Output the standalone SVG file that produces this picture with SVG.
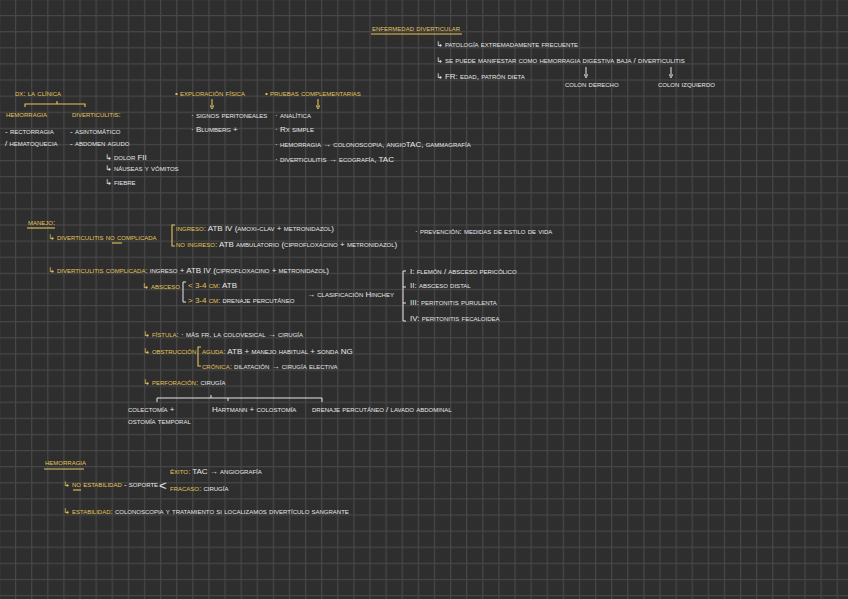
<svg xmlns="http://www.w3.org/2000/svg" width="848" height="599" viewBox="0 0 848 599">
<style>
text{font-family:"Liberation Sans","DejaVu Sans",sans-serif;font-size:8px;font-variant:small-caps;fill:#e8e8e8}
.y{fill:#e4c55c}
.w{fill:#e8e8e8}
.lw{stroke:#e8e8e8;stroke-width:1;fill:none}
.ly{stroke:#e4c55c;stroke-width:1.1;fill:none}
</style>
<defs>
<pattern id="grid" patternUnits="userSpaceOnUse" x="15" y="15" width="16.11" height="16.11">
<rect width="16.11" height="16.11" fill="#2e2e2e"/>
<rect width="1.2" height="16.11" fill="#474747"/>
<rect width="16.11" height="1.2" fill="#474747"/>
</pattern>
<marker id="aw" viewBox="0 0 6 6" refX="3" refY="3" markerWidth="4" markerHeight="4" orient="auto"><path d="M0,0 L6,3 L0,6" fill="none" stroke="#e8e8e8" stroke-width="1.2"/></marker>
<marker id="ay" viewBox="0 0 6 6" refX="3" refY="3" markerWidth="4" markerHeight="4" orient="auto"><path d="M0,0 L6,3 L0,6" fill="none" stroke="#e4c55c" stroke-width="1.2"/></marker>
</defs>
<rect width="848" height="599" fill="url(#grid)"/>

<g id="connectors">
<line class="ly" x1="371" y1="34" x2="462" y2="34"/>
<line class="lw" x1="586" y1="67" x2="586" y2="76" marker-end="url(#aw)"/>
<line class="lw" x1="671" y1="67" x2="671" y2="76" marker-end="url(#aw)"/>
<path class="ly" d="M25,107 L25,104 L85,104 L85,107 M57,104 L57,101"/>
<line class="ly" x1="212" y1="99" x2="212" y2="107" marker-end="url(#ay)"/>
<line class="ly" x1="318" y1="99" x2="318" y2="107" marker-end="url(#ay)"/>
<line class="ly" x1="27" y1="228" x2="55" y2="228"/>
<line class="ly" x1="112" y1="243" x2="122" y2="243"/>
<path class="ly" d="M175,225 L172,225 L172,246 L175,246"/>
<path class="lw" d="M186,282 L183,282 L183,302 L186,302"/>
<path class="lw" d="M406,271 L403,271 L403,321 L406,321 M403,287 L406,287 M403,303 L406,303"/>
<path class="ly" d="M201,347 L198,347 L198,366 L201,366"/>
<path class="lw" d="M157,402 L157,398 L322,398 L322,402 M211,398 L211,395 M228,398 L228,401"/>
<line class="ly" x1="44" y1="469" x2="84" y2="469"/>
<line class="ly" x1="73" y1="490" x2="81" y2="490"/>
</g>

<g id="enfermedad-diverticular">
<text class="y" x="372" y="31">enfermedad diverticular</text>
<text x="436" y="47">↳ patología extremadamente frecuente</text>
<text x="436" y="63">↳ se puede manifestar como hemorragia digestiva baja / diverticulitis</text>
<text x="436" y="79">↳ FR: edad, patrón dieta</text>
<text x="565" y="87">colon derecho</text>
<text x="658" y="87">colon izquierdo</text>
</g>

<g id="dx-clinica">
<text class="y" x="15" y="96">dx: la clínica</text>
<text class="y" x="6" y="117">hemorragia</text>
<text class="y" x="72" y="117">diverticulitis:</text>
<text x="5" y="134">- rectorragia</text>
<text x="70" y="134">- asintomático</text>
<text x="5" y="146">/ hematoquecia</text>
<text x="70" y="146">- abdomen agudo</text>
<text x="105" y="160">↳ dolor FII</text>
<text x="105" y="171">↳ náuseas y vómitos</text>
<text x="105" y="185">↳ fiebre</text>
</g>

<g id="exploracion-fisica">
<text class="y" x="175" y="96">• exploración física</text>
<text x="191" y="118">· signos peritoneales</text>
<text x="191" y="132">· Blumberg +</text>
</g>

<g id="pruebas-complementarias">
<text class="y" x="265" y="96">• pruebas complementarias</text>
<text x="275" y="118">· analítica</text>
<text x="275" y="132">· Rx simple</text>
<text x="275" y="147">· hemorragia → colonoscopia, angioTAC, gammagrafía</text>
<text x="275" y="162">· diverticulitis → ecografía, TAC</text>
</g>

<g id="manejo">
<text class="y" x="28" y="225">manejo:</text>
<text class="y" x="48" y="240">↳ diverticulitis no complicada</text>
<text x="176" y="231"><tspan class="y">ingreso:</tspan> ATB IV (amoxi-clav + metronidazol)</text>
<text x="176" y="247"><tspan class="y">no ingreso:</tspan> ATB ambulatorio (ciprofloxacino + metronidazol)</text>
<text x="415" y="234">· prevención: medidas de estilo de vida</text>
</g>

<g id="complicada">
<text x="48" y="273"><tspan class="y">↳ diverticulitis complicada:</tspan> ingreso + ATB IV (ciprofloxacino + metronidazol)</text>
<text class="y" x="142" y="289">↳ absceso</text>
<text x="188" y="288"><tspan class="y">&lt; 3-4 cm:</tspan> ATB</text>
<text x="188" y="303"><tspan class="y">&gt; 3-4 cm:</tspan> drenaje percutáneo</text>
<text x="307" y="297">→ clasificación Hinchey</text>
</g>

<g id="hinchey">
<text x="410" y="274">I: flemón / absceso pericólico</text>
<text x="410" y="288">II: absceso distal</text>
<text x="410" y="305">III: peritonitis purulenta</text>
<text x="410" y="321">IV: peritonitis fecaloidea</text>
</g>

<g id="fistula-obstruccion">
<text x="143" y="337"><tspan class="y">↳ fístula:</tspan> · más fr. la colovesical → cirugía</text>
<text class="y" x="143" y="354">↳ obstrucción</text>
<text x="202" y="354"><tspan class="y">aguda:</tspan> ATB + manejo habitual + sonda NG</text>
<text x="202" y="369"><tspan class="y">crónica:</tspan> dilatación → cirugía electiva</text>
</g>

<g id="perforacion">
<text x="143" y="385"><tspan class="y">↳ perforación:</tspan> cirugía</text>
<text x="128" y="412">colectomía +</text>
<text x="128" y="424">ostomía temporal</text>
<text x="212" y="412">Hartmann + colostomía</text>
<text x="312" y="412">drenaje percutáneo / lavado abdominal</text>
</g>

<g id="hemorragia">
<text class="y" x="45" y="465">hemorragia</text>
<text x="63" y="487"><tspan class="y">↳ no estabilidad</tspan> - soporte</text>
<text x="159" y="490" style="font-size:13px">&lt;</text>
<text x="170" y="474"><tspan class="y">éxito:</tspan> TAC → angiografía</text>
<text x="170" y="491"><tspan class="y">fracaso:</tspan> cirugía</text>
<text x="63" y="514"><tspan class="y">↳ estabilidad:</tspan> colonoscopia y tratamiento si localizamos divertículo sangrante</text>
</g>
</svg>
